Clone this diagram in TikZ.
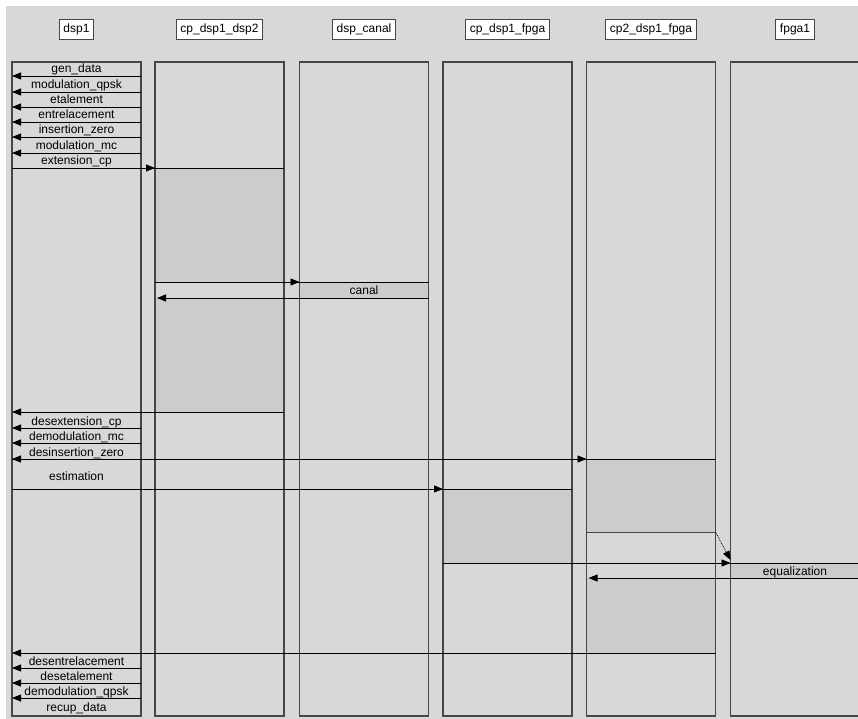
\documentclass[tikz,border=0pt]{standalone}
\usepackage{fontspec}
\setmainfont{Liberation Sans}
\usetikzlibrary{arrows.meta, positioning}

\definecolor{panel}{RGB}{216,216,216}
\definecolor{actfill}{RGB}{204,204,204}
\definecolor{frame}{RGB}{70,70,70}

\begin{document}
\begin{tikzpicture}[
        x=1pt, y=-1pt,
        lifeline/.style={minimum width=129pt, minimum height=654pt, inner sep=0pt, outer sep=0pt},
        border/.style={draw=frame, line width=1.2pt},
        header/.style={draw=frame, line width=1pt, fill=white, minimum height=20pt, inner xsep=4pt, inner ysep=0pt, font=\fontsize{12}{12}\selectfont},
        op/.style={anchor=base, inner sep=0pt, font=\fontsize{12}{12}\selectfont},
        msg/.style={-{Triangle[length=9pt,width=7pt]}, line width=0.8pt},
        tick/.style={line width=0.8pt},
        busy/.style={fill=actfill}
    ]
        \useasboundingbox (0,0) rectangle (858,719);
        \fill[white] (0,0) rectangle (858,719);
        \fill[panel] (6,6) rectangle (858,719);

        % Lifelines
        \node (dsp1) [lifeline] at (76.5, 389) {};
        \node (cpdd) [lifeline] at (219.5, 389) {};
        \node (canal) [lifeline] at (364, 389) {};
        \node (cpdf) [lifeline] at (507.5, 389) {};
        \node (cptwo) [lifeline] at (651, 389) {};
        \node (fpga) [lifeline] at (795, 389) {};

        % Headers
        \node (hdsp1) [header, above=22pt of dsp1] {dsp1};
        \node (hcpdd) [header, above=22pt of cpdd] {cp\_dsp1\_dsp2};
        \node (hcanal) [header, above=22pt of canal] {dsp\_canal};
        \node (hcpdf) [header, above=22pt of cpdf] {cp\_dsp1\_fpga};
        \node (hcptwo) [header, above=22pt of cptwo] {cp2\_dsp1\_fpga};
        \node (hfpga) [header, above=22pt of fpga] {fpga1};

        % Busy intervals
        \fill[busy] (cpdd.west |- 0,168) rectangle (cpdd.east |- 0,282);
        \fill[busy] (cpdd.west |- 0,298) rectangle (cpdd.east |- 0,412);
        \fill[busy] (canal.west |- 0,282) rectangle (canal.east |- 0,298);
        \fill[busy] (cpdf.west |- 0,489) rectangle (cpdf.east |- 0,563);
        \fill[busy] (cptwo.west |- 0,459) rectangle (cptwo.east |- 0,532);
        \fill[busy] (cptwo.west |- 0,578) rectangle (cptwo.east |- 0,653);
        \fill[busy] (fpga.west |- 0,563) rectangle (fpga.east |- 0,578);

        % Lifeline borders
        \foreach \p in {dsp1, cpdd, canal, cpdf, cptwo, fpga}
            \draw[border] (\p.south west) rectangle (\p.north east);

        % Operations of dsp1, first part
        \node (op1) [op] at (dsp1.center |- 0,73) {gen\_data};
        \node (op2) [op] at (dsp1.center |- 0,89) {modulation\_qpsk};
        \node (op3) [op] at (dsp1.center |- 0,104) {etalement};
        \node (op4) [op] at (dsp1.center |- 0,119) {entrelacement};
        \node (op5) [op] at (dsp1.center |- 0,134) {insertion\_zero};
        \node (op6) [op] at (dsp1.center |- 0,150) {modulation\_mc};
        \node (op7) [op] at (dsp1.center |- 0,165) {extension\_cp};
        \draw [msg] (dsp1.east |- 0,76) -- (dsp1.west |- 0,76);
        \draw [msg] (dsp1.east |- 0,92) -- (dsp1.west |- 0,92);
        \draw [msg] (dsp1.east |- 0,107) -- (dsp1.west |- 0,107);
        \draw [msg] (dsp1.east |- 0,122) -- (dsp1.west |- 0,122);
        \draw [msg] (dsp1.east |- 0,137) -- (dsp1.west |- 0,137);
        \draw [msg] (dsp1.east |- 0,153) -- (dsp1.west |- 0,153);

        % dsp1 -> cp_dsp1_dsp2 -> dsp_canal -> back
        \draw [tick] (dsp1.west |- 0,168) -- (cpdd.east |- 0,168);
        \draw [msg] (dsp1.west |- 0,168) -- (cpdd.west |- 0,168);
        \draw [tick] (cpdd.west |- 0,282) -- (canal.east |- 0,282);
        \draw [msg] (cpdd.west |- 0,282) -- (canal.west |- 0,282);
        \node (canalop) [op] at (canal.center |- 0,294) {canal};
        \draw [msg] (canal.east |- 0,298) -- ([xshift=2pt]cpdd.west |- 0,298);
        \draw [msg] (cpdd.east |- 0,412) -- (dsp1.west |- 0,412);

        % Operations of dsp1, second part
        \node (op8) [op] at (dsp1.center |- 0,425) {desextension\_cp};
        \node (op9) [op] at (dsp1.center |- 0,440) {demodulation\_mc};
        \node (op10) [op] at (dsp1.center |- 0,456) {desinsertion\_zero};
        \node (op11) [op] at (dsp1.center |- 0,480) {estimation};
        \draw [msg] (dsp1.east |- 0,428) -- (dsp1.west |- 0,428);
        \draw [msg] (dsp1.east |- 0,443) -- (dsp1.west |- 0,443);
        \draw [msg] (cptwo.east |- 0,459) -- (dsp1.west |- 0,459);
        \draw [msg] (dsp1.west |- 0,459) -- (cptwo.west |- 0,459);

        % dsp1 -> cp_dsp1_fpga / cp2_dsp1_fpga -> fpga1
        \draw [tick] (dsp1.west |- 0,489) -- (cpdf.east |- 0,489);
        \draw [msg] (dsp1.west |- 0,489) -- (cpdf.west |- 0,489);
        \draw [tick, frame] (cptwo.west |- 0,532) -- (cptwo.east |- 0,532);
        \draw [msg, densely dotted] (cptwo.east |- 0,532) -- (fpga.west |- 0,560);
        \draw [tick] (cpdf.west |- 0,563) -- (fpga.east |- 0,563);
        \draw [msg] (cpdf.west |- 0,563) -- (fpga.west |- 0,563);
        \node (eqop) [op] at (fpga.center |- 0,575) {equalization};
        \draw [msg] (fpga.east |- 0,578) -- ([xshift=2pt]cptwo.west |- 0,578);
        \draw [msg] (cptwo.east |- 0,653) -- (dsp1.west |- 0,653);

        % Operations of dsp1, last part
        \node (op12) [op] at (dsp1.center |- 0,665) {desentrelacement};
        \node (op13) [op] at (dsp1.center |- 0,680) {desetalement};
        \node (op14) [op] at (dsp1.center |- 0,695) {demodulation\_qpsk};
        \node (op15) [op] at (dsp1.center |- 0,711) {recup\_data};
        \draw [msg] (dsp1.east |- 0,668) -- (dsp1.west |- 0,668);
        \draw [msg] (dsp1.east |- 0,683) -- (dsp1.west |- 0,683);
        \draw [msg] (dsp1.east |- 0,698) -- (dsp1.west |- 0,698);
    \end{tikzpicture}
\end{document}
